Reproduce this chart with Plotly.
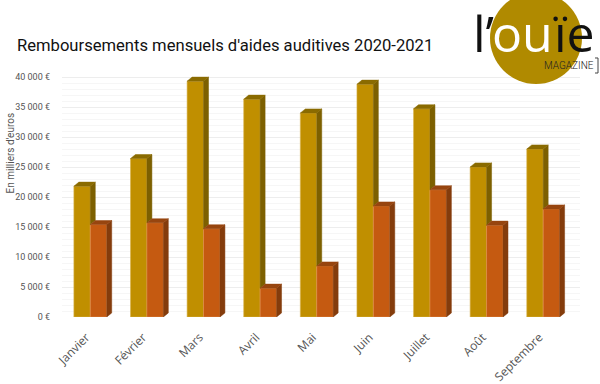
import plotly.graph_objects as go

months = ["Janvier", "Février", "Mars", "Avril", "Mai", "Juin", "Juillet", "Août", "Septembre"]
serie_2020 = [21800, 26400, 39300, 36300, 34000, 38800, 34700, 25000, 28000]
serie_2021 = [15400, 15700, 14700, 4800, 8500, 18500, 21200, 15300, 18000]
y_tickvals = [0, 5000, 10000, 15000, 20000, 25000, 30000, 35000, 40000]
y_ticktext = ["0 €", "5 000 €", "10 000 €", "15 000 €", "20 000 €", "25 000 €", "30 000 €", "35 000 €", "40 000 €"]

GOLD = "#C08F00"
GOLD_DARK = "#7D6000"
ORANGE = "#C55A11"
ORANGE_DARK = "#843C0C"

BW = 0.29      # bar width (category units)
DX = 0.088     # depth offset x
DY = 680       # depth offset y (data units)

xs = list(range(len(months)))

fig = go.Figure()

# front faces
fig.add_trace(go.Bar(x=[i - BW / 2 for i in xs], y=serie_2020, width=BW, marker=dict(color=GOLD, line=dict(color="#D9B14A", width=0.6)), name="2020", hoverinfo="y"))
fig.add_trace(go.Bar(x=[i + BW / 2 for i in xs], y=serie_2021, width=BW, marker=dict(color=ORANGE, line=dict(color="#E08A4A", width=0.6)), name="2021", hoverinfo="y"))


def poly_trace(polys, color):
    px, py = [], []
    for pts in polys:
        for (a, b) in pts:
            px.append(a)
            py.append(b)
        px.append(pts[0][0]); py.append(pts[0][1])
        px.append(None); py.append(None)
    return go.Scatter(x=px, y=py, mode="lines", fill="toself", fillcolor=color,
                      line=dict(width=0.5, color=color), hoverinfo="skip", showlegend=False)


gold_sides = []
gold_tops = []
for i, g, o in zip(xs, serie_2020, serie_2021):
    xl, xr = i - BW, i
    gold_sides.append([(xr, o), (xr, g), (xr + DX, g + DY), (xr + DX, o + DY)])
    gold_tops.append([(xl, g), (xr, g), (xr + DX, g + DY), (xl + DX, g + DY)])
orange_sides = []
orange_tops = []
for i, o in zip(xs, serie_2021):
    xl, xr = i, i + BW
    orange_sides.append([(xr, 0), (xr, o), (xr + DX, o + DY), (xr + DX, DY)])
    orange_tops.append([(xl, o), (xr, o), (xr + DX, o + DY), (xl + DX, o + DY)])

fig.add_trace(poly_trace(gold_sides, GOLD_DARK))
fig.add_trace(poly_trace(gold_tops, "#8A6B00"))
fig.add_trace(poly_trace(orange_sides, ORANGE_DARK))
fig.add_trace(poly_trace(orange_tops, "#97450F"))

L, R, T, B = 62, 20, 74, 67
PW, PH = 600 - L - R, 384 - T - B


def px_x(p):
    return (p - L) / PW


def px_y(p):
    return (384 - B - p) / PH


fig.update_layout(
    width=600, height=384,
    margin=dict(l=L, r=R, t=T, b=B, autoexpand=False),
    paper_bgcolor="white", plot_bgcolor="white",
    showlegend=False,
    barmode="overlay",
    title=dict(text="Remboursements mensuels d'aides auditives 2020-2021",
               x=17 / 600, xref="container", xanchor="left",
               y=1 - 45 / 384, yref="container", yanchor="middle", automargin=False,
               font=dict(family="Roboto", size=16.6, color="#111111")),
    xaxis=dict(range=[-0.5, 8.65], tickmode="array", tickvals=xs, ticktext=months,
               tickangle=-45, showgrid=False, zeroline=False, showline=False, automargin=False,
               ticklabelstandoff=10, ticklabelshift=-4,
               tickfont=dict(family="Open Sans", size=12, color="#555555"), ticks=""),
    yaxis=dict(range=[0, 40500], tickmode="array", tickvals=y_tickvals, ticktext=y_ticktext,
               showgrid=True, gridcolor="#EDEDED", gridwidth=1, zeroline=False, showline=False,
               automargin=False,
               minor=dict(dtick=1000, showgrid=True, gridcolor="#F6F6F6", gridwidth=1),
               tickfont=dict(family="Roboto", size=9, color="#555555"), ticks="", ticklabelstandoff=11),
)

fig.add_annotation(text="En milliers d'euros", textangle=-90, xref="paper", yref="paper",
                   x=px_x(9.5), y=px_y(153), xanchor="center", yanchor="middle", showarrow=False,
                   font=dict(family="Roboto", size=10, color="#555555"))

# logo
fig.add_shape(type="circle", xref="paper", yref="paper",
              x0=px_x(490), x1=px_x(582), y0=px_y(84), y1=px_y(-8),
              fillcolor="#B08A00", line=dict(width=0), layer="above")
fig.add_annotation(text="l’", xref="paper", yref="paper", x=px_x(471), y=px_y(33),
                   xanchor="left", yanchor="middle", showarrow=False,
                   font=dict(family="Open Sans", size=50, color="#111111"))
fig.add_annotation(text="ou", xref="paper", yref="paper", x=px_x(490), y=px_y(33),
                   xanchor="left", yanchor="middle", showarrow=False,
                   font=dict(family="Open Sans", size=50, color="white"))
fig.add_annotation(text="ïe", xref="paper", yref="paper", x=px_x(551), y=px_y(33),
                   xanchor="left", yanchor="middle", showarrow=False,
                   font=dict(family="Open Sans", size=50, color="#111111"))
fig.add_annotation(text="MAGAZINE", xref="paper", yref="paper", x=px_x(596), y=px_y(66),
                   xanchor="right", yanchor="middle", showarrow=False,
                   font=dict(family="Roboto", size=10, color="#222222", weight=300))
fig.add_shape(type="path", xref="paper", yref="paper",
              path="M %f,%f L %f,%f L %f,%f L %f,%f" % (px_x(595), px_y(58), px_x(598), px_y(58),
                                                         px_x(598), px_y(73), px_x(595), px_y(73)),
              line=dict(color="#444444", width=1))

fig.write_html("out.html", post_script="document.body.style.margin='0';",
               config={"displayModeBar": False})
